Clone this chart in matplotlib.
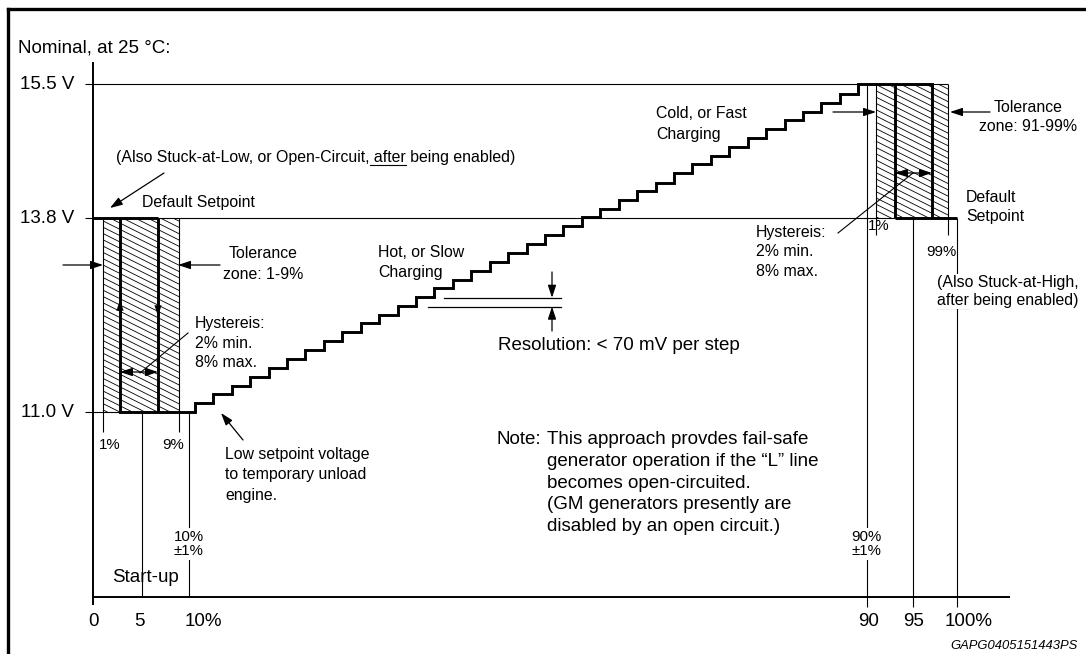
import numpy as np
import matplotlib
matplotlib.use("Agg")
import matplotlib.pyplot as plt
import matplotlib.transforms as mtransforms
from matplotlib.collections import LineCollection
from matplotlib.patches import Rectangle
from matplotlib.font_manager import FontProperties

plt.rcParams["font.family"] = ["Liberation Sans", "DejaVu Sans"]

W, H = 1086, 654

# Dados
niveis_volt = [11.0, 13.8, 15.5]
rotulos_volt = ["11.0 V", "13.8 V", "15.5 V"]
ticks_duty = [0, 5, 10, 90, 95, 100]
rotulos_duty = ["0", "5", "10%", "90", "95", "100%"]
zona_baixa = [1, 9]
zona_alta = [91, 99]
hist_baixa = [2.8, 6.7]
hist_alta = [93.1, 97.2]
v_piso = 8.33
v_topo = 15.78

# degraus da escada (duty onde sobe, tensao depois de subir)
degrau_duty = [10.74, 12.91, 15.09, 17.26, 19.44, 21.61, 23.78, 25.96, 28.13, 30.31,
               32.48, 34.65, 36.83, 39.00, 41.18, 43.35, 45.52, 47.70, 49.87, 52.05,
               54.22, 56.39, 58.57, 60.74, 62.92, 65.09, 67.26, 69.44, 71.61, 73.79,
               75.96, 78.13, 80.31, 82.48, 84.66, 86.83, 89.00]
degrau_volt = [11.13, 11.26, 11.38, 11.51, 11.64, 11.77, 11.89, 12.02, 12.15, 12.28,
               12.40, 12.53, 12.66, 12.79, 12.91, 13.04, 13.17, 13.30, 13.42, 13.55,
               13.68, 13.81, 13.92, 14.03, 14.14, 14.25, 14.37, 14.48, 14.59, 14.70,
               14.81, 14.93, 15.04, 15.15, 15.26, 15.37, 15.50]

# Escala do esquema (nao linear) -> posicao em pixels
escala_x_duty = [0, 5, 10, 90, 95, 100]
escala_x_px = [93, 141.7, 188.7, 866.7, 912.7, 957.3]
escala_y_volt = [11.0, 13.8, 15.5]
escala_y_px = [242, 436, 570]  # medido a partir de baixo


def linear_por_partes(ent, sai):
    ent = np.asarray(ent, float)
    sai = np.asarray(sai, float)
    a0 = (sai[1] - sai[0]) / (ent[1] - ent[0])
    a1 = (sai[-1] - sai[-2]) / (ent[-1] - ent[-2])

    def f(v):
        v = np.asarray(v, float)
        r = np.interp(v, ent, sai)
        r = np.where(v < ent[0], sai[0] + (v - ent[0]) * a0, r)
        r = np.where(v > ent[-1], sai[-1] + (v - ent[-1]) * a1, r)
        return r
    return f


fx = linear_por_partes(escala_x_duty, escala_x_px)
fx_inv = linear_por_partes(escala_x_px, escala_x_duty)
fy = linear_por_partes(escala_y_volt, escala_y_px)
fy_inv = linear_por_partes(escala_y_px, escala_y_volt)

fig = plt.figure(figsize=(W / 100, H / 100), dpi=100)
ax = fig.add_axes([0, 0, 1, 1])
ax.set_xscale("function", functions=(fx, fx_inv))
ax.set_yscale("function", functions=(fy, fy_inv))
ax.set_xlim(float(fx_inv(0)), float(fx_inv(W)))
ax.set_ylim(float(fy_inv(0)), float(fy_inv(H)))
ax.axis("off")

# transformacao em pixels (origem no canto superior esquerdo)
pix = mtransforms.Affine2D().scale(1.0 / W, -1.0 / H).translate(0, 1) + fig.transFigure

fino = 0.8
grosso = 2.1
preto = "black"
tam = 11.4      # texto pequeno
tam_g = 13.5    # texto grande
esp = 1.45      # espacamento das linhas


def linha(xs, ys, lw=fino, **kw):
    ax.plot(xs, ys, color=preto, lw=lw, solid_capstyle="butt", **kw)


def seta(x0, y0, x1, y1, estilo="-|>", lw=0.9):
    ax.annotate("", xy=(x1, y1), xycoords=pix, xytext=(x0, y0), textcoords=pix,
                arrowprops=dict(arrowstyle=estilo + ",head_length=0.75,head_width=0.25",
                                color=preto, lw=lw, shrinkA=0, shrinkB=0,
                                mutation_scale=10))


def texto(x, y, s, size=tam, ha="left", va="center", **kw):
    return fig.text(x, y, s, transform=pix, fontsize=size, ha=ha, va=va, **kw)


# Hachuras das zonas de tolerancia
def hachura(x0, x1, v0, v1):
    rect = Rectangle((x0, v0), x1 - x0, v1 - v0, facecolor="none", edgecolor="none")
    ax.add_patch(rect)
    segs = [[(0, c), (W, c + 0.5 * W)] for c in np.arange(-700, 700, 6.3)]
    lc = LineCollection(segs, colors=preto, linewidths=0.6, transform=pix)
    ax.add_collection(lc, autolim=False)
    lc.set_clip_path(rect)


hachura(zona_baixa[0], zona_baixa[1], niveis_volt[0], niveis_volt[1])
hachura(zona_alta[0], zona_alta[1], niveis_volt[1], niveis_volt[2])

# Linhas horizontais de referencia
linha([-0.82, zona_alta[1]], [niveis_volt[2]] * 2)
linha([-0.82, hist_alta[0]], [niveis_volt[1]] * 2)
linha([-0.82, hist_baixa[0]], [niveis_volt[0]] * 2)

# Eixos
linha([0, 0], [8.21, v_topo], lw=1.4)
linha([0, 105.9], [v_piso, v_piso], lw=1.4)

# Linhas verticais finas
linha([zona_baixa[0]] * 2, [10.71, niveis_volt[1]])
linha([zona_baixa[1]] * 2, [10.71, niveis_volt[1]])
linha([5, 5], [v_piso, niveis_volt[0]])
linha([10, 10], [v_piso, niveis_volt[0]])
linha([90, 90], [8.18, niveis_volt[2]])
linha([zona_alta[0]] * 2, [13.55, niveis_volt[2]])
linha([95, 95], [8.18, niveis_volt[1]])
linha([zona_alta[1]] * 2, [13.55, niveis_volt[2]])
linha([100, 100], [8.18, niveis_volt[1]])

# Escada + histerese (linha grossa)
xs = [hist_baixa[0]]
ys = [niveis_volt[0]]
v_ant = niveis_volt[0]
for d, v in zip(degrau_duty, degrau_volt):
    xs += [d, d]
    ys += [v_ant, v]
    v_ant = v
xs.append(hist_alta[1])
ys.append(niveis_volt[2])
ax.plot(xs, ys, color=preto, lw=grosso, solid_joinstyle="miter")

linha([0, hist_baixa[1]], [niveis_volt[1]] * 2, lw=grosso)
for h in hist_baixa:
    linha([h, h], [niveis_volt[0], niveis_volt[1]], lw=grosso)
for h in hist_alta:
    linha([h, h], [niveis_volt[1], niveis_volt[2]], lw=grosso)
linha([hist_alta[0], 100], [niveis_volt[1]] * 2, lw=grosso)

# Rotulos dos eixos
for v, r in zip(niveis_volt, rotulos_volt):
    ax.annotate(r, xy=(0, v), xytext=(-19, 0), textcoords="offset pixels",
                ha="right", va="center", fontsize=tam_g)
desloc_x = [0, -2, 15, 2, 1, 11]
for d, r, dx in zip(ticks_duty, rotulos_duty, desloc_x):
    ax.annotate(r, xy=(d, v_piso), xytext=(dx, -25), textcoords="offset pixels",
                ha="center", va="center", fontsize=tam_g)

# Moldura
fig.add_artist(plt.Line2D([8, W], [8.5, 8.5], color=preto, lw=2.4, transform=pix))
fig.add_artist(plt.Line2D([8, 8], [8.5, H], color=preto, lw=2.4, transform=pix))

texto(18, 48, "Nominal, at 25 °C:", size=tam_g)

# Texto sublinhado
r = fig.canvas.get_renderer()


def largura(s, size):
    fp = FontProperties(family=["Liberation Sans", "DejaVu Sans"], size=size)
    w, h, d = r.get_text_width_height_descent(s, fp, ismath=False)
    return w


s1 = "(Also Stuck-at-Low, or Open-Circuit, after being enabled)"
texto(116, 162, s1, va="baseline")
u0 = 116 + largura("(Also Stuck-at-Low, or Open-Circuit,", tam)
u1 = 116 + largura("(Also Stuck-at-Low, or Open-Circuit, after", tam)
fig.add_artist(plt.Line2D([u0, u1], [165, 165], color=preto, lw=0.8, transform=pix))

texto(142, 203, "Default Setpoint")
seta(164, 173, 110, 208)

# Tolerancia esquerda
texto(263, 264, "Tolerance\nzone: 1-9%", ha="center", linespacing=esp, multialignment="center")
seta(63, 265, 103, 265)
seta(220, 265, 178, 265)

# Histerese esquerda
texto(195, 343, "Hystereis:\n2% min.\n8% max.", linespacing=1.4)
fig.add_artist(plt.Line2D([188, 140], [333, 373], color=preto, lw=0.8, transform=pix))
seta(139, 372, 120, 372)
seta(139, 372, 158, 372)
seta(120, 322, 120, 300, lw=0.1)
seta(158, 296, 158, 316, lw=0.1)

texto(110, 445, "1%", size=10.8, ha="center")
texto(173, 445, "9%", size=10.8, ha="center")

texto(225, 475, "Low setpoint voltage\nto temporary unload\nengine.", linespacing=esp)
seta(243, 440, 221, 413)

fundo = dict(facecolor="white", edgecolor="none", pad=1)
texto(188.7, 544, "10%\n±1%", size=10.8, ha="center", multialignment="center",
      linespacing=1.05, bbox=fundo)
texto(112, 577, "Start-up", size=tam_g)

# Meio
texto(656, 124, "Cold, or Fast\nCharging", linespacing=esp)
texto(378, 262.5, "Hot, or Slow\nCharging", linespacing=esp)

fig.add_artist(plt.Line2D([444, 561], [297.7, 297.7], color=preto, lw=0.9, transform=pix))
fig.add_artist(plt.Line2D([428, 561], [306.7, 306.7], color=preto, lw=0.9, transform=pix))
seta(552, 272, 552, 297.7)
seta(552, 331, 552, 306.7)
texto(498, 345, "Resolution: < 70 mV per step", size=tam_g)

texto(497, 439, "Note:", size=tam_g)
texto(547, 483, "This approach provdes fail-safe\ngenerator operation if the \u201cL\u201d line\n"
      "becomes open-circuited.\n(GM generators presently are\ndisabled by an open circuit.)",
      size=tam_g, linespacing=1.36)

# Lado direito
texto(756, 252, "Hystereis:\n2% min.\n8% max.", linespacing=1.4)
fig.add_artist(plt.Line2D([838, 913], [233, 173], color=preto, lw=0.8, transform=pix))
seta(913, 173, 895, 173)
seta(913, 173, 932, 173)

texto(879, 226, "1%", size=10.8, ha="center")
texto(941, 252, "99%", size=10.8, ha="center")
texto(966, 207, "Default\nSetpoint", linespacing=1.3)

texto(1028, 117, "Tolerance\nzone: 91-99%", ha="center", multialignment="center", linespacing=1.35)
seta(833, 112, 876, 112)
seta(990, 112, 950, 112)

texto(937, 283, "(Also Stuck-at-High,", bbox=fundo)
texto(937, 305, "after being enabled)", va="baseline", bbox=fundo)
u1 = 937 + largura("after", tam)
fig.add_artist(plt.Line2D([937, u1], [308, 308], color=preto, lw=0.8, transform=pix))

texto(866.7, 544, "90%\n±1%", size=10.8, ha="center", multialignment="center",
      linespacing=1.05, bbox=fundo)

texto(1078, 646, "GAPG0405151443PS", size=9.4, ha="right", style="italic")

fig.savefig("out.png", dpi=100)
